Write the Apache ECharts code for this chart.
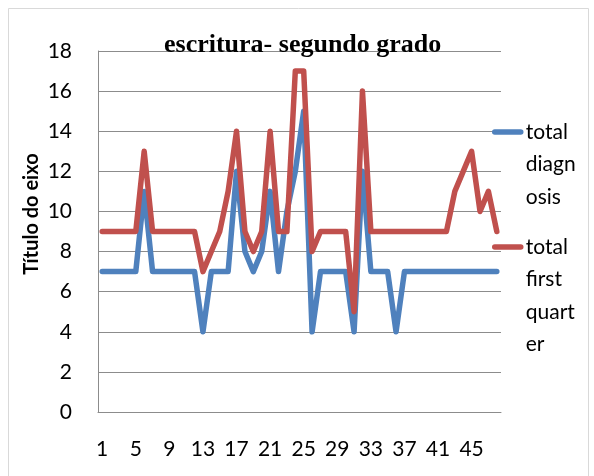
<!DOCTYPE html>
<html>
<head>
<meta charset="utf-8">
<script src="https://cdn.jsdelivr.net/npm/echarts@6/dist/echarts.min.js"></script>
<style>
html,body{margin:0;padding:0;background:#fff;}
#chart{width:594px;height:476px;}
</style>
</head>
<body>
<div id="chart"></div>
<script>
// ---- data ----
var categories = [];
for (var c = 1; c <= 48; c++) categories.push(String(c));
var seriesNames = ['total diagnosis', 'total first quarter'];
var totalDiagnosis = [7,7,7,7,7,11,7,7,7,7,7,7,4,7,7,7,12,8,7,8,11,7,10,12,15,4,7,7,7,7,4,12,7,7,7,4,7,7,7,7,7,7,7,7,7,7,7,7];
var totalFirstQuarter = [9,9,9,9,9,13,9,9,9,9,9,9,7,8,9,11,14,9,8,9,14,9,9,17,17,8,9,9,9,9,5,16,9,9,9,9,9,9,9,9,9,9,11,12,13,10,11,9];
var titleText = 'escritura- segundo grado';
var yAxisTitle = 'Título do eixo';

var chart = echarts.init(document.getElementById('chart'), null, {renderer: 'canvas'});
var sans = 'Lato, "Liberation Sans", sans-serif';
var blue = '#4F81BD', red = '#C0504D', grid = '#8C8C8C';

// wrap legend names like the narrow legend box (max 5 chars a line),
// padded with empty lines so that the first line sits at the icon.
function wrapLines(n) {
  var lines = [];
  n.split(' ').forEach(function (w) {
    for (var i = 0; i < w.length; i += 5) lines.push(w.slice(i, i + 5));
  });
  return lines;
}
function wrapName(n) {
  var lines = wrapLines(n);
  var pad = [];
  for (var i = 1; i < lines.length; i++) pad.push('');
  return pad.concat(lines).join('\n');
}
var LH = 32.5;
function legendFor(name, color, iconY) {
  var n = wrapLines(name).length;
  var half = (2 * n - 1) * LH / 2;
  return {
    show: true, orient: 'vertical', left: 492, top: iconY - half, padding: 0,
    itemWidth: 26, itemHeight: 14,
    data: [name],
    formatter: wrapName,
    itemStyle: {color: color, opacity: 0},
    lineStyle: {color: color, width: 5.5, cap: 'round'},
    textStyle: {fontFamily: sans, fontSize: 21, color: '#000', lineHeight: LH}
  };
}

var option = {
  animation: false,
  backgroundColor: '#fff',
  title: {
    text: titleText, left: 164, top: 32, padding: 0,
    textStyle: {fontFamily: '"Liberation Serif", "Times New Roman", serif', fontWeight: 'bold', fontSize: 26, color: '#000'}
  },
  graphic: [{
    type: 'rect', shape: {x: 8.5, y: 8.5, width: 580, height: 470}, z: -10,
    style: {fill: 'none', stroke: '#D9D9D9', lineWidth: 1}
  }],
  legend: [
    legendFor(seriesNames[0], blue, 132),
    legendFor(seriesNames[1], red, 247)
  ],
  grid: {left: 98, top: 51, right: 93, bottom: 64, containLabel: false},
  xAxis: {
    type: 'category', data: categories, boundaryGap: true,
    axisLine: {show: true, lineStyle: {color: grid, width: 1}},
    axisTick: {show: false},
    axisLabel: {interval: 3, margin: 27, fontFamily: sans, fontSize: 21, color: '#000'},
    splitLine: {show: false}
  },
  yAxis: {
    type: 'value', min: 0, max: 18, interval: 2,
    name: yAxisTitle, nameLocation: 'middle', nameGap: 56, nameMoveOverlap: false,
    nameTextStyle: {fontFamily: sans, fontWeight: 'bold', fontSize: 20, color: '#000', padding: [0, 0, 0, 35]},
    axisLine: {show: true, lineStyle: {color: grid, width: 1}},
    axisTick: {show: false},
    axisLabel: {margin: 26, fontFamily: sans, fontSize: 21, color: '#000'},
    splitLine: {show: true, lineStyle: {color: grid, width: 1}}
  },
  series: [
    {name: seriesNames[0], type: 'line', data: totalDiagnosis, symbol: 'none', color: blue,
     lineStyle: {color: blue, width: 5.5, cap: 'round', join: 'round'}},
    {name: seriesNames[1], type: 'line', data: totalFirstQuarter, symbol: 'none', color: red,
     lineStyle: {color: red, width: 5.5, cap: 'round', join: 'round'}}
  ]
};
chart.setOption(option);
</script>
</body>
</html>
